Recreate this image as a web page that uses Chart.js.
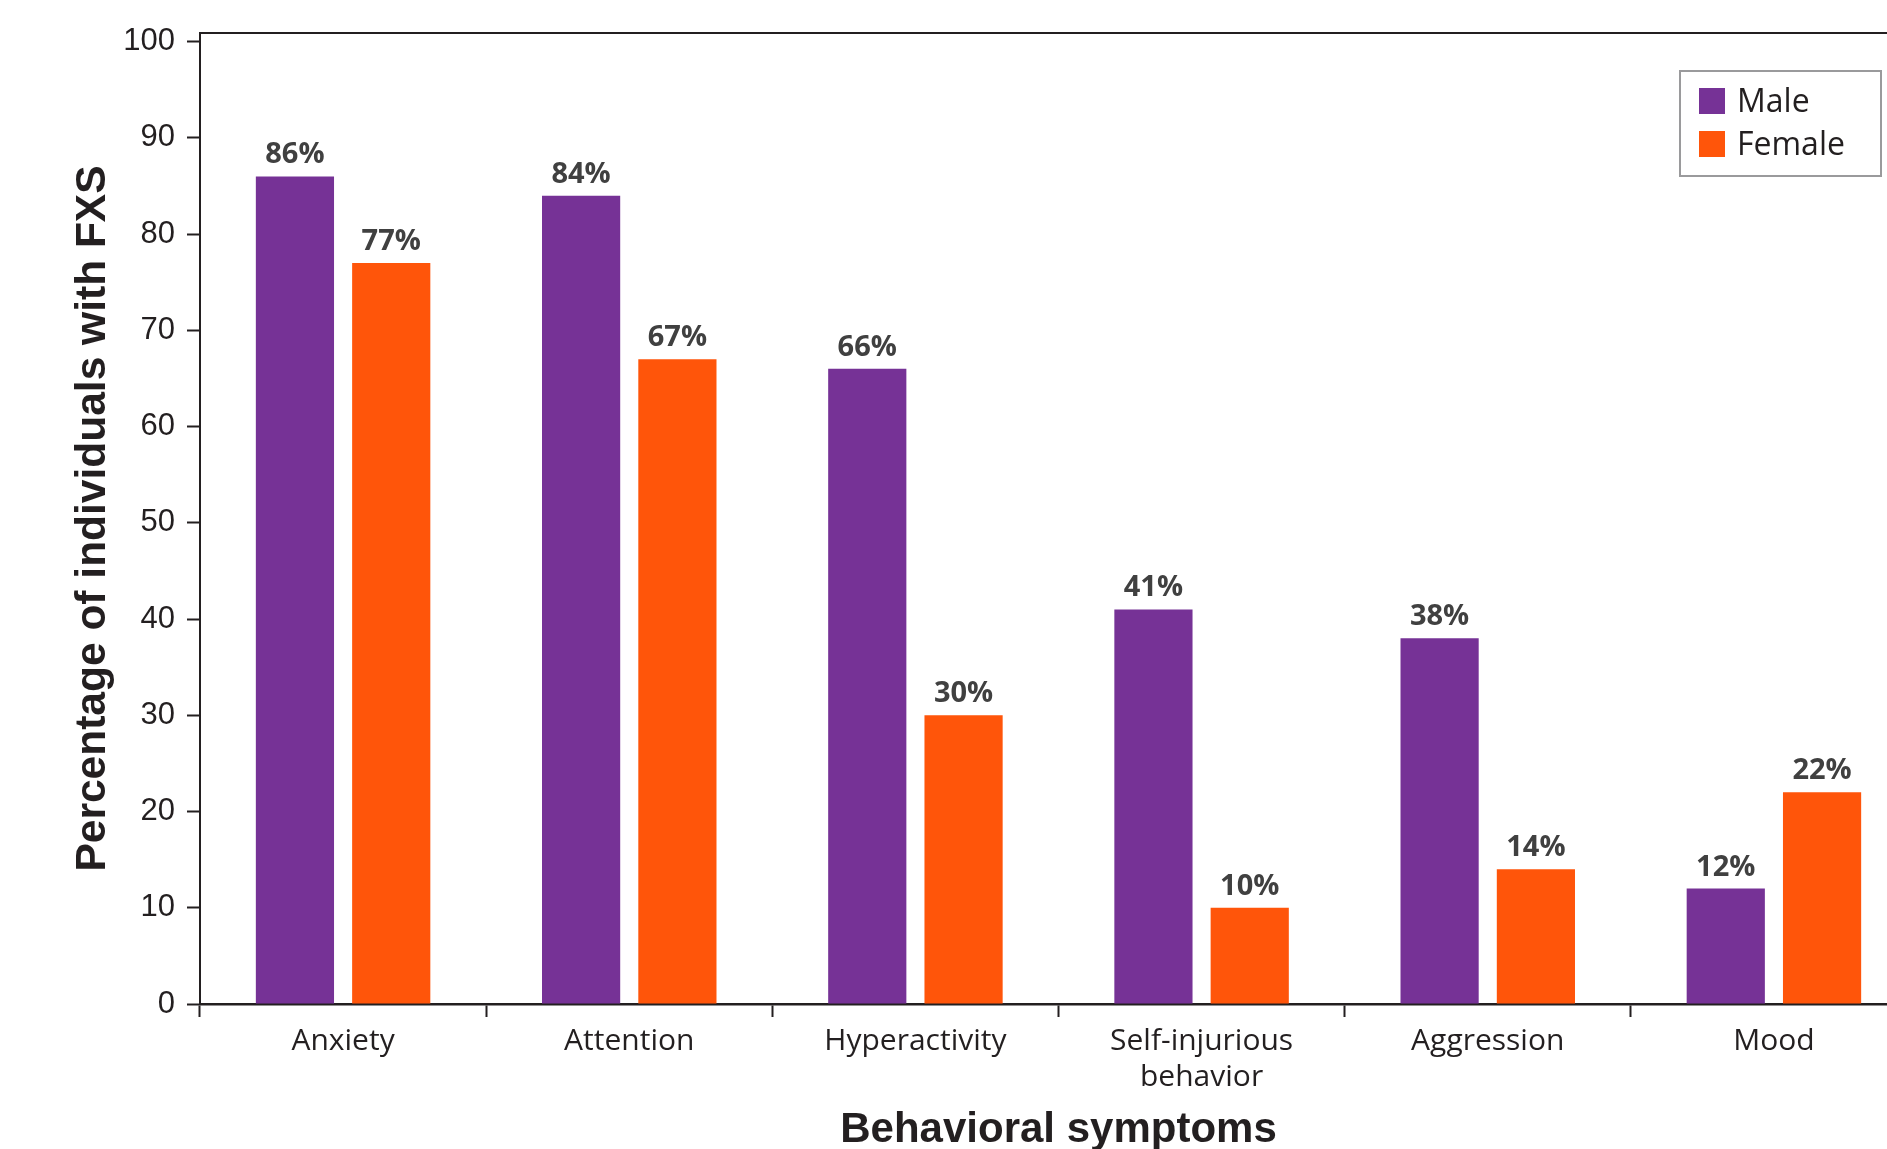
<!DOCTYPE html>
<html>
<head>
<meta charset="utf-8">
<title>Behavioral symptoms in FXS by sex</title>
<script src="https://cdn.jsdelivr.net/npm/chart.js@4"></script>
<style>
  html, body { margin: 0; padding: 0; overflow: hidden; background: #ffffff; }
  #wrap { position: absolute; left: 0; top: 0; }
  canvas { display: block; }
</style>
</head>
<body>
<div id="wrap"><canvas id="chart" width="1917" height="1156"></canvas></div>
<script>
// Symptom categories (multi-line labels are arrays)
const categories = ["Anxiety", "Attention", "Hyperactivity", ["Self-injurious", "behavior"], "Aggression", "Mood"];
// Percentage of individuals with FXS showing each symptom
const maleValues = [86, 84, 66, 41, 38, 12];
const femaleValues = [77, 67, 30, 10, 14, 22];
const seriesNames = ["Male", "Female"];
const yTicks = [0, 10, 20, 30, 40, 50, 60, 70, 80, 90, 100];

const PURPLE = "#763296";
const ORANGE = "#FF550A";
const INK = "#231f20";
const AXIS_BOTTOM = 1004;

// Value labels above each bar
const valueLabels = {
  id: "valueLabels",
  afterDatasetsDraw(chart) {
    const ctx = chart.ctx;
    ctx.save();
    ctx.font = "bold 29px 'Open Sans'";
    ctx.fillStyle = "#404040";
    ctx.textAlign = "center";
    ctx.textBaseline = "alphabetic";
    chart.data.datasets.forEach((ds, di) => {
      chart.getDatasetMeta(di).data.forEach((bar, i) => {
        ctx.fillText(ds.data[i] + "%", bar.x, bar.y - 13);
      });
    });
    ctx.restore();
  }
};

// Frame line along the top of the plot area
const topFrame = {
  id: "topFrame",
  afterDraw(chart) {
    const { ctx, chartArea } = chart;
    ctx.save();
    ctx.strokeStyle = INK;
    ctx.lineWidth = 2;
    ctx.beginPath();
    ctx.moveTo(chartArea.left - 1, chartArea.top);
    ctx.lineTo(chartArea.right, chartArea.top);
    ctx.stroke();
    ctx.restore();
  }
};

// Boxed legend inside the top-right corner of the plot area
const boxedLegend = {
  id: "boxedLegend",
  afterDraw(chart) {
    const { ctx, chartArea } = chart;
    const w = 201, h = 105;
    const left = chartArea.right - 36 - w;
    const top = chartArea.top + 38;
    ctx.save();
    ctx.fillStyle = "#ffffff";
    ctx.fillRect(left, top, w, h);
    ctx.strokeStyle = "#9a9a9c";
    ctx.lineWidth = 2;
    ctx.strokeRect(left, top, w, h);
    ctx.font = "32px 'Open Sans'";
    ctx.textAlign = "left";
    ctx.textBaseline = "alphabetic";
    chart.data.datasets.forEach((ds, i) => {
      const rowY = top + 30 + i * 43;
      ctx.fillStyle = ds.backgroundColor;
      ctx.fillRect(left + 19, rowY - 13, 26, 26);
      ctx.fillStyle = INK;
      ctx.fillText(ds.label, left + 57, rowY + 11);
    });
    ctx.restore();
  }
};

const chart = new Chart(document.getElementById("chart"), {
  type: "bar",
  data: {
    labels: categories,
    datasets: [
      { label: seriesNames[0], data: maleValues, backgroundColor: PURPLE },
      { label: seriesNames[1], data: femaleValues, backgroundColor: ORANGE }
    ]
  },
  options: {
    responsive: false,
    animation: false,
    events: [],
    categoryPercentage: 0.673,
    barPercentage: 0.812,
    layout: { padding: { top: 33, left: 0, right: 0, bottom: 0 } },
    plugins: {
      legend: { display: false },
      tooltip: { enabled: false }
    },
    scales: {
      x: {
        grid: {
          drawOnChartArea: false,
          drawTicks: true,
          tickLength: 13,
          tickWidth: 2,
          tickColor: INK,
          offset: true
        },
        border: { color: INK, width: 2.5 },
        ticks: {
          color: INK,
          font: { family: "'Open Sans'", size: 30, lineHeight: 1.2 },
          padding: 6,
          maxRotation: 0,
          autoSkip: false
        },
        title: {
          display: true,
          text: "Behavioral symptoms",
          color: INK,
          font: { family: "'Liberation Sans', Arial, sans-serif", size: 42, weight: "bold" },
          padding: { top: 0, bottom: 0 }
        },
        afterFit(scale) { scale.height = scale.chart.height - AXIS_BOTTOM; }
      },
      y: {
        min: 0,
        max: 100.9,
        afterBuildTicks(scale) { scale.ticks = yTicks.map(v => ({ value: v })); },
        grid: {
          drawOnChartArea: false,
          drawTicks: true,
          tickLength: 13,
          tickWidth: 2,
          tickColor: INK
        },
        border: { color: INK, width: 2 },
        ticks: {
          color: INK,
          font: { family: "'Liberation Sans', Arial, sans-serif", size: 31 },
          padding: 12,
          includeBounds: false
        },
        title: {
          display: true,
          text: "Percentage of individuals with FXS",
          color: INK,
          font: { family: "'Liberation Sans', Arial, sans-serif", size: 42.5, weight: "bold" },
          padding: { top: 68, bottom: 0 }
        },
        afterFit(scale) { scale.width = 200; }
      }
    }
  },
  plugins: [valueLabels, topFrame, boxedLegend]
});
</script>
</body>
</html>
